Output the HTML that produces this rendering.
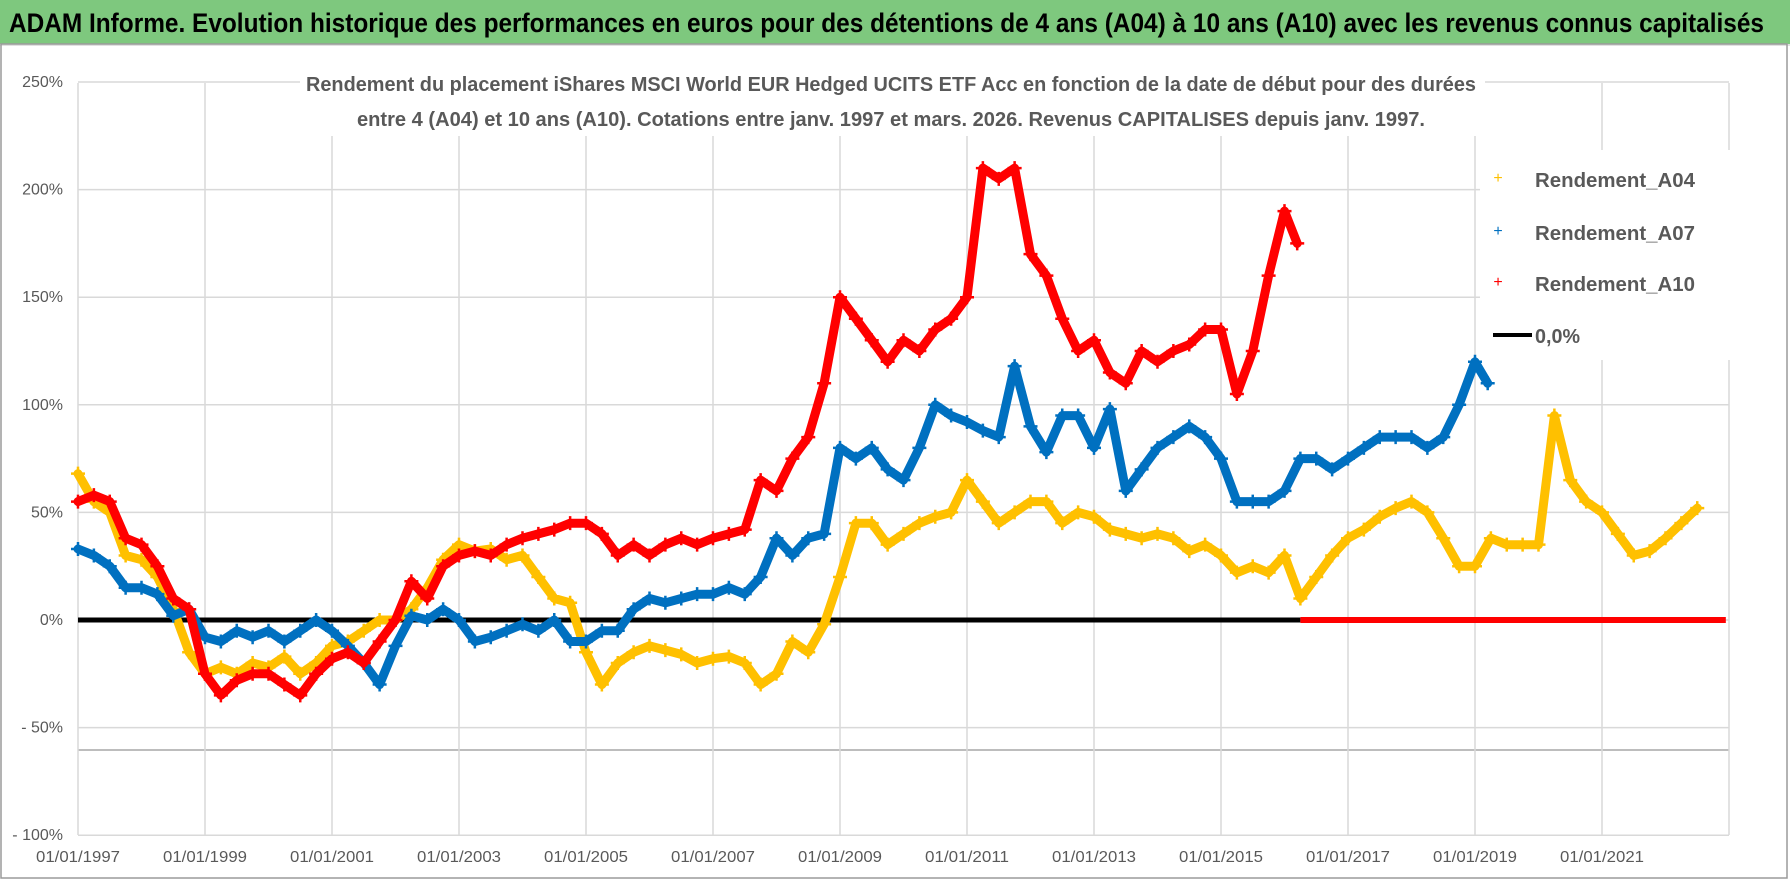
<!DOCTYPE html>
<html><head><meta charset="utf-8">
<style>
html,body{margin:0;padding:0;background:#fff;}
svg{display:block;font-family:"Liberation Sans",sans-serif;}
</style></head>
<body>
<svg id="chart" width="1790" height="886" viewBox="0 0 1790 886">
  <rect x="0" y="0" width="1790" height="886" fill="#fff"/>
  <rect x="0" y="0" width="1790" height="44" fill="#7ec87e"/>
  <line x1="0" y1="45" x2="1790" y2="45" stroke="#e0e0e0" stroke-width="2"/>
  <rect x="1" y="44" width="1786" height="834" fill="none" stroke="#9a9a9a" stroke-width="1.5"/>
  <text x="9" y="32" font-size="27" font-weight="bold" fill="#000" textLength="1755" lengthAdjust="spacingAndGlyphs">ADAM Informe. Evolution historique des performances en euros pour des détentions de 4 ans (A04) à 10 ans (A10) avec les revenus connus capitalisés</text>
  <g id="grid"></g>
  <g id="yaxis"></g>
  <g id="xaxis"></g>
  <rect x="300" y="66" width="1185" height="70" fill="#fff"/>
  <text x="306" y="91" font-size="20" font-weight="bold" fill="#595959" textLength="1170" lengthAdjust="spacingAndGlyphs">Rendement du placement iShares MSCI World EUR Hedged UCITS ETF Acc en fonction de la date de début pour des durées</text>
  <text x="357" y="126" font-size="20" font-weight="bold" fill="#595959" textLength="1068" lengthAdjust="spacingAndGlyphs">entre 4 (A04) et 10 ans (A10). Cotations entre janv. 1997 et mars. 2026. Revenus CAPITALISES depuis janv. 1997.</text>
  <g id="series"></g>
  <rect x="1480" y="150" width="250" height="210" fill="#fff"/>
  <g>
    <g>
      <text x="1498" y="183" font-size="16" fill="#ffc000" text-anchor="middle">+</text>
      <text x="1535" y="187" font-size="20" font-weight="bold" fill="#595959" textLength="160" lengthAdjust="spacingAndGlyphs">Rendement_A04</text>
    </g>
    <g>
      <text x="1498" y="236" font-size="16" fill="#0070c0" text-anchor="middle">+</text>
      <text x="1535" y="240" font-size="20" font-weight="bold" fill="#595959" textLength="160" lengthAdjust="spacingAndGlyphs">Rendement_A07</text>
    </g>
    <g>
      <text x="1498" y="287" font-size="16" fill="#ff0000" text-anchor="middle">+</text>
      <text x="1535" y="291" font-size="20" font-weight="bold" fill="#595959" textLength="160" lengthAdjust="spacingAndGlyphs">Rendement_A10</text>
    </g>
    <g>
      <line x1="1493" y1="335" x2="1532" y2="335" stroke="#000" stroke-width="4"/>
      <text x="1535" y="343" font-size="20" font-weight="bold" fill="#595959" textLength="45" lengthAdjust="spacingAndGlyphs">0,0%</text>
    </g>
  </g>
</svg>
<script>
const yTicks = [250, 200, 150, 100, 50, 0, -50, -100];
const yTickLabels = ["250%", "200%", "150%", "100%", "50%", "0%", "- 50%", "- 100%"];
const xTickYears = [1997, 1999, 2001, 2003, 2005, 2007, 2009, 2011, 2013, 2015, 2017, 2019, 2021];
const xTickLabels = ["01/01/1997","01/01/1999","01/01/2001","01/01/2003","01/01/2005","01/01/2007","01/01/2009","01/01/2011","01/01/2013","01/01/2015","01/01/2017","01/01/2019","01/01/2021"];

const a04Years = [1997,1997.25,1997.5,1997.75,1998,1998.25,1998.5,1998.75,1999,1999.25,1999.5,1999.75,2000,2000.25,2000.5,2000.75,2001,2001.25,2001.5,2001.75,2002,2002.25,2002.5,2002.75,2003,2003.25,2003.5,2003.75,2004,2004.25,2004.5,2004.75,2005,2005.25,2005.5,2005.75,2006,2006.25,2006.5,2006.75,2007,2007.25,2007.5,2007.75,2008,2008.25,2008.5,2008.75,2009,2009.25,2009.5,2009.75,2010,2010.25,2010.5,2010.75,2011,2011.25,2011.5,2011.75,2012,2012.25,2012.5,2012.75,2013,2013.25,2013.5,2013.75,2014,2014.25,2014.5,2014.75,2015,2015.25,2015.5,2015.75,2016,2016.25,2016.5,2016.75,2017,2017.25,2017.5,2017.75,2018,2018.25,2018.5,2018.75,2019,2019.25,2019.5,2019.75,2020,2020.25,2020.5,2020.75,2021,2021.25,2021.5,2021.75,2022,2022.25,2022.5];
const a04Values = [68,55,50,30,28,20,5,-15,-25,-22,-25,-20,-22,-17,-25,-20,-12,-10,-5,0,0,5,15,28,35,32,33,28,30,20,10,8,-15,-30,-20,-15,-12,-14,-16,-20,-18,-17,-20,-30,-25,-10,-15,-2,20,45,45,35,40,45,48,50,65,55,45,50,55,55,45,50,48,42,40,38,40,38,32,35,30,22,25,22,30,10,20,30,38,42,48,52,55,50,38,25,25,38,35,35,35,95,65,55,50,40,30,32,38,45,52];

const a07Years = [1997,1997.25,1997.5,1997.75,1998,1998.25,1998.5,1998.75,1999,1999.25,1999.5,1999.75,2000,2000.25,2000.5,2000.75,2001,2001.25,2001.5,2001.75,2002,2002.25,2002.5,2002.75,2003,2003.25,2003.5,2003.75,2004,2004.25,2004.5,2004.75,2005,2005.25,2005.5,2005.75,2006,2006.25,2006.5,2006.75,2007,2007.25,2007.5,2007.75,2008,2008.25,2008.5,2008.75,2009,2009.25,2009.5,2009.75,2010,2010.25,2010.5,2010.75,2011,2011.25,2011.5,2011.75,2012,2012.25,2012.5,2012.75,2013,2013.25,2013.5,2013.75,2014,2014.25,2014.5,2014.75,2015,2015.25,2015.5,2015.75,2016,2016.25,2016.5,2016.75,2017,2017.25,2017.5,2017.75,2018,2018.25,2018.5,2018.75,2019,2019.2];
const a07Values = [33,30,25,15,15,12,2,5,-8,-10,-5,-8,-5,-10,-5,0,-5,-12,-20,-30,-12,2,0,5,0,-10,-8,-5,-2,-5,0,-10,-10,-5,-5,5,10,8,10,12,12,15,12,20,38,30,38,40,80,75,80,70,65,80,100,95,92,88,85,118,90,78,95,95,80,98,60,70,80,85,90,85,75,55,55,55,60,75,75,70,75,80,85,85,85,80,85,100,120,110];

const a10Years = [1997,1997.25,1997.5,1997.75,1998,1998.25,1998.5,1998.75,1999,1999.25,1999.5,1999.75,2000,2000.25,2000.5,2000.75,2001,2001.25,2001.5,2001.75,2002,2002.25,2002.5,2002.75,2003,2003.25,2003.5,2003.75,2004,2004.25,2004.5,2004.75,2005,2005.25,2005.5,2005.75,2006,2006.25,2006.5,2006.75,2007,2007.25,2007.5,2007.75,2008,2008.25,2008.5,2008.75,2009,2009.25,2009.5,2009.75,2010,2010.25,2010.5,2010.75,2011,2011.25,2011.5,2011.75,2012,2012.25,2012.5,2012.75,2013,2013.25,2013.5,2013.75,2014,2014.25,2014.5,2014.75,2015,2015.25,2015.5,2015.75,2016,2016.2];
const a10Values = [55,58,55,38,35,25,10,5,-25,-35,-28,-25,-25,-30,-35,-25,-18,-15,-20,-10,0,18,10,25,30,32,30,35,38,40,42,45,45,40,30,35,30,35,38,35,38,40,42,65,60,75,85,110,150,140,130,120,130,125,135,140,150,210,205,210,170,160,140,125,130,115,110,125,120,125,128,135,135,105,125,160,190,175];

const a10ZeroStart = 2016.25;
const a10ZeroEnd = 2022.95;
const zeroLineStart = 1997;
const zeroLineEnd = 2016.25;

const NS = "http://www.w3.org/2000/svg";
const X0 = 78, PXY = 63.5, Y0 = 620, PXP = 2.152;
const xScale = yr => X0 + (yr - 1997) * PXY;
const yScale = v => Y0 - v * PXP;
const plotLeft = 78, plotRight = 1729, plotTop = 83, plotBottom = 835;

function mk(tag, attrs, parent) {
  const e = document.createElementNS(NS, tag);
  for (const k in attrs) e.setAttribute(k, attrs[k]);
  parent.appendChild(e);
  return e;
}

const grid = document.getElementById("grid");
yTicks.forEach((t, i) => {
  const y = yScale(t);
  const l = mk("line", {x1: plotLeft, x2: plotRight, y1: y, y2: y, stroke: "#d9d9d9", "stroke-width": 1.5}, grid);
  
  
});
const extra = mk("line", {x1: plotLeft, x2: plotRight, y1: 750, y2: 750, stroke: "#bdbdbd", "stroke-width": 2}, grid);


xTickYears.forEach(yr => {
  const x = xScale(yr);
  const l = mk("line", {x1: x, x2: x, y1: plotTop, y2: plotBottom, stroke: "#d9d9d9", "stroke-width": 1.5}, grid);
  
  
});
const lastV = mk("line", {x1: plotRight, x2: plotRight, y1: plotTop, y2: plotBottom, stroke: "#d9d9d9", "stroke-width": 1.5}, grid);



const yaxis = document.getElementById("yaxis");
yTicks.forEach((t, i) => {
  const tx = mk("text", {x: 63, y: yScale(t) + 5, "font-size": 16, fill: "#595959", "text-anchor": "end"}, yaxis);
  tx.textContent = yTickLabels[i];
  
  
});
const xaxis = document.getElementById("xaxis");
xTickYears.forEach((yr, i) => {
  const tx = mk("text", {x: xScale(yr), y: 862, "font-size": 16, fill: "#595959", "text-anchor": "middle", textLength: 84, lengthAdjust: "spacingAndGlyphs"}, xaxis);
  tx.textContent = xTickLabels[i];
  
  
});

const series = document.getElementById("series");
const zl = mk("line", {x1: xScale(zeroLineStart), x2: xScale(zeroLineEnd), y1: yScale(0), y2: yScale(0), stroke: "#000", "stroke-width": 5}, series);



function drawSeries(years, values, color, name) {
  const g = mk("g", {}, series);
  
  
  const pts = years.map((yr, i) => xScale(yr).toFixed(1) + "," + yScale(values[i]).toFixed(1)).join(" ");
  const pl = mk("polyline", {points: pts, fill: "none", stroke: color, "stroke-width": 9, "stroke-linejoin": "round", "stroke-linecap": "round"}, g);
  
  
  years.forEach((yr, i) => {
    const x = xScale(yr), y = yScale(values[i]);
    const p = mk("path", {d: `M${x-7} ${y}H${x+7}M${x} ${y-7}V${y+7}`, stroke: color, "stroke-width": 2.5}, g);
    
    
  });
}
drawSeries(a04Years, a04Values, "#ffc000", "series-a04");
drawSeries(a07Years, a07Values, "#0070c0", "series-a07");
drawSeries(a10Years, a10Values, "#ff0000", "series-a10");

const zr = mk("line", {x1: xScale(a10ZeroStart), x2: xScale(a10ZeroEnd), y1: yScale(0), y2: yScale(0), stroke: "#ff0000", "stroke-width": 6}, series);


</script>
</body></html>
